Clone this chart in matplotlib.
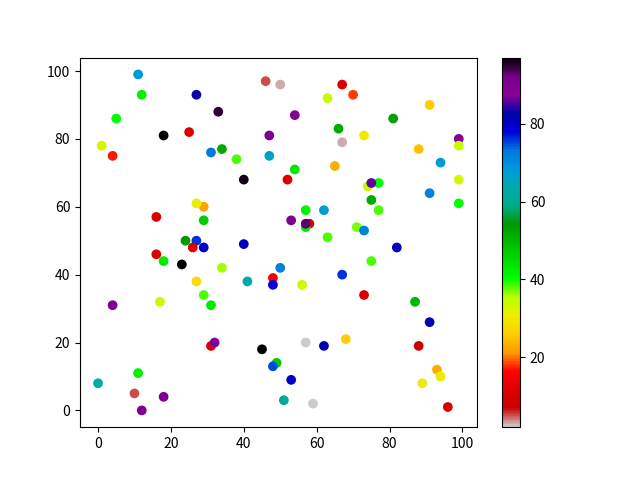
import matplotlib.pyplot as plt

plt.rcParams['font.family'] = ['Noto Sans CJK SC', 'DejaVu Sans']

# pontos: x, y e valor da cor
x = [11, 12, 5, 1, 4, 18, 25, 27, 33, 31, 34, 38, 40, 46, 50, 47, 47, 54, 54, 52,
     63, 67, 70, 66, 67, 65, 73, 81, 88, 91, 99, 99, 94, 91, 99, 99, 74, 77, 75, 77,
     71, 73, 82, 75, 62, 57, 53, 58, 57, 57, 63, 40, 16, 29, 27, 29, 24, 27, 26, 29,
     16, 18, 23, 34, 27, 29, 31, 17, 4, 41, 50, 48, 48, 56, 67, 73, 87, 91, 88, 93,
     94, 89, 96, 68, 62, 57, 59, 51, 53, 49, 48, 45, 31, 32, 11, 0, 10, 18, 12, 75]
y = [99, 93, 86, 78, 75, 81, 82, 93, 88, 76, 77, 74, 68, 97, 96, 81, 75, 87, 71, 68,
     92, 96, 93, 83, 79, 72, 81, 86, 77, 90, 80, 78, 73, 64, 68, 61, 66, 67, 62, 59,
     54, 53, 48, 44, 59, 59, 56, 55, 54, 55, 51, 49, 57, 60, 61, 56, 50, 50, 48, 48,
     46, 44, 43, 42, 38, 34, 31, 32, 31, 38, 42, 39, 37, 37, 40, 34, 32, 26, 19, 12,
     10, 8, 1, 21, 19, 20, 2, 3, 9, 14, 13, 18, 19, 20, 11, 8, 5, 4, 0, 67]
cor = [68, 42, 40, 33, 17, 97, 12, 83, 95, 73, 52, 38, 96, 5, 3, 91, 66, 89, 43, 11,
       34, 11, 18, 52, 3, 23, 30, 53, 25, 26, 88, 34, 68, 72, 33, 40, 34, 40, 52, 38,
       37, 72, 81, 38, 67, 41, 90, 12, 43, 93, 38, 81, 11, 22, 31, 47, 54, 76, 12, 81,
       11, 43, 97, 36, 28, 38, 43, 34, 90, 63, 72, 15, 78, 33, 76, 11, 50, 82, 7, 23,
       30, 30, 11, 26, 82, 2, 2, 61, 80, 47, 75, 97, 12, 89, 42, 63, 5, 90, 90, 86]

fig = plt.figure(figsize=(6.4, 4.8), dpi=100)
plt.scatter(x, y, c=cor, cmap='nipy_spectral_r')
plt.colorbar()
plt.savefig('out.png', dpi=100)
